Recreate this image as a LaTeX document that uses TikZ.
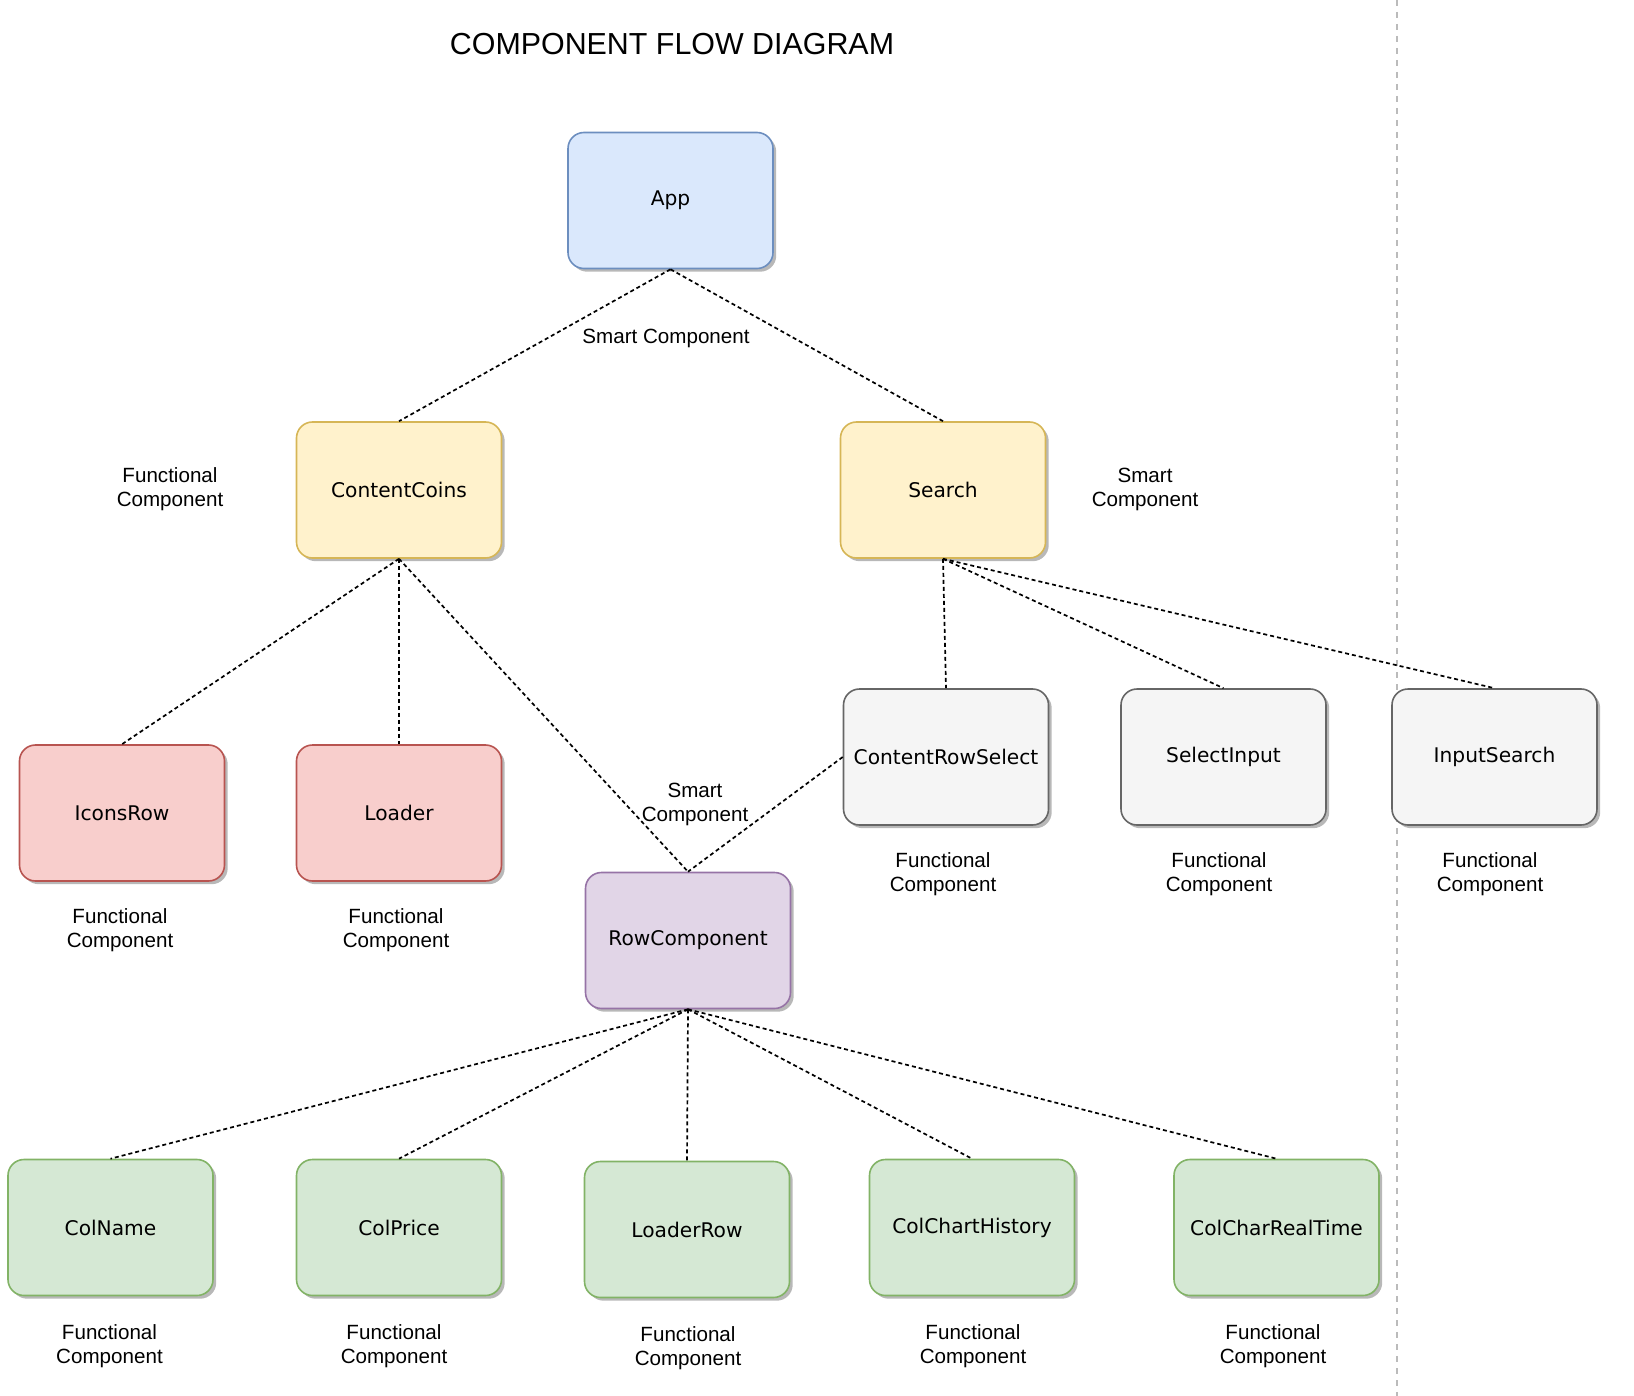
\documentclass[tikz,border=0pt]{standalone}
\usepackage{fontspec}
\setmainfont{Liberation Sans}
\newfontfamily\boxfont{DejaVu Sans}
\usetikzlibrary{shadows}
\definecolor{blueF}{HTML}{DAE8FC}\definecolor{blueD}{HTML}{6C8EBF}
\definecolor{yelF}{HTML}{FFF2CC}\definecolor{yelD}{HTML}{D6B656}
\definecolor{redF}{HTML}{F8CECC}\definecolor{redD}{HTML}{B85450}
\definecolor{grayF}{HTML}{F5F5F5}\definecolor{grayD}{HTML}{666666}
\definecolor{purF}{HTML}{E1D5E7}\definecolor{purD}{HTML}{9673A6}
\definecolor{grnF}{HTML}{D5E8D4}\definecolor{grnD}{HTML}{82B366}
\definecolor{sepC}{HTML}{BBBBBB}
\begin{document}
\begin{tikzpicture}[x=0.5pt,y=-0.5pt,
  comp/.style={rounded corners=8pt, minimum width=102.5pt, minimum height=68pt,
    inner sep=0pt, line width=0.8pt, font=\boxfont\fontsize{10.1}{12}\selectfont,
    drop shadow={shadow xshift=1.6pt, shadow yshift=-1.6pt, fill=black!28, opacity=1}},
  cblue/.style={comp, fill=blueF, draw=blueD},
  cyel/.style={comp, fill=yelF, draw=yelD},
  cred/.style={comp, fill=redF, draw=redD},
  cgray/.style={comp, fill=grayF, draw=grayD},
  cpur/.style={comp, fill=purF, draw=purD},
  cgrn/.style={comp, fill=grnF, draw=grnD},
  lbl/.style={font=\fontsize{10.3}{12}\selectfont, align=center, inner sep=0pt},
  link/.style={draw=black, line width=0.85pt, dash pattern=on 2pt off 1.5pt},
  sepline/.style={draw=sepC, line width=1pt, dash pattern=on 3pt off 3pt}
]
\useasboundingbox (0,0) rectangle (1634,1396);

\node[font=\fontsize{15.2}{18}\selectfont, inner sep=0pt] (title) at (672,44) {COMPONENT FLOW DIAGRAM};

\coordinate (vt) at (1397,0);
\coordinate (vb) at (1397,1396);
\draw[sepline] (vt) -- (vb);

% boxes
\node[cblue] (app) at (670.5,200.5) {App};
\node[cyel] (cc) at (399,490) {ContentCoins};
\node[cyel] (search) at (943,490) {Search};
\node[cred] (icons) at (122,813) {IconsRow};
\node[cred] (loader) at (399,813) {Loader};
\node[cgray] (crs) at (946,757) {ContentRowSelect};
\node[cgray] (sel) at (1223.5,757) {SelectInput};
\node[cgray] (inp) at (1494.5,757) {InputSearch};
\node[cpur] (row) at (688,940.5) {RowComponent};
\node[cgrn] (colname) at (110.5,1227.5) {ColName};
\node[cgrn] (colprice) at (399,1227.5) {ColPrice};
\node[cgrn] (loaderrow) at (687,1229.5) {LoaderRow};
\node[cgrn] (colhist) at (972,1227.5) {ColChartHistory};
\node[cgrn] (colrt) at (1276.5,1227.5) {ColCharRealTime};

% connectors
\draw[link] (app.south) -- (cc.north);
\draw[link] (app.south) -- (search.north);
\draw[link] (cc.south) -- (icons.north);
\draw[link] (cc.south) -- (loader.north);
\draw[link] (cc.south) -- (row.north);
\draw[link] (search.south) -- (crs.north);
\draw[link] (search.south) -- (sel.north);
\draw[link] (search.south) -- (inp.north);
\draw[link] (crs.west) -- (row.north);
\draw[link] (row.south) -- (colname.north);
\draw[link] (row.south) -- (colprice.north);
\draw[link] (row.south) -- (loaderrow.north);
\draw[link] (row.south) -- (colhist.north);
\draw[link] (row.south) -- (colrt.north);

% labels
\node[lbl] (l1) at (666,338.5) {Smart Component};
\node[lbl] (l2) at (170,489.5) {Functional\\Component};
\node[lbl] (l3) at (1145,489.5) {Smart\\Component};
\node[lbl] (l4) at (120,930.5) {Functional\\Component};
\node[lbl] (l5) at (396,930.5) {Functional\\Component};
\node[lbl] (l6) at (695,804.5) {Smart\\Component};
\node[lbl] (l7) at (943,874.5) {Functional\\Component};
\node[lbl] (l8) at (1219,874.5) {Functional\\Component};
\node[lbl] (l9) at (1490,874.5) {Functional\\Component};
\node[lbl] (l10) at (109.5,1346.5) {Functional\\Component};
\node[lbl] (l11) at (394,1346.5) {Functional\\Component};
\node[lbl] (l12) at (688,1348.5) {Functional\\Component};
\node[lbl] (l13) at (973,1346.5) {Functional\\Component};
\node[lbl] (l14) at (1273,1346.5) {Functional\\Component};
\end{tikzpicture}
\end{document}
